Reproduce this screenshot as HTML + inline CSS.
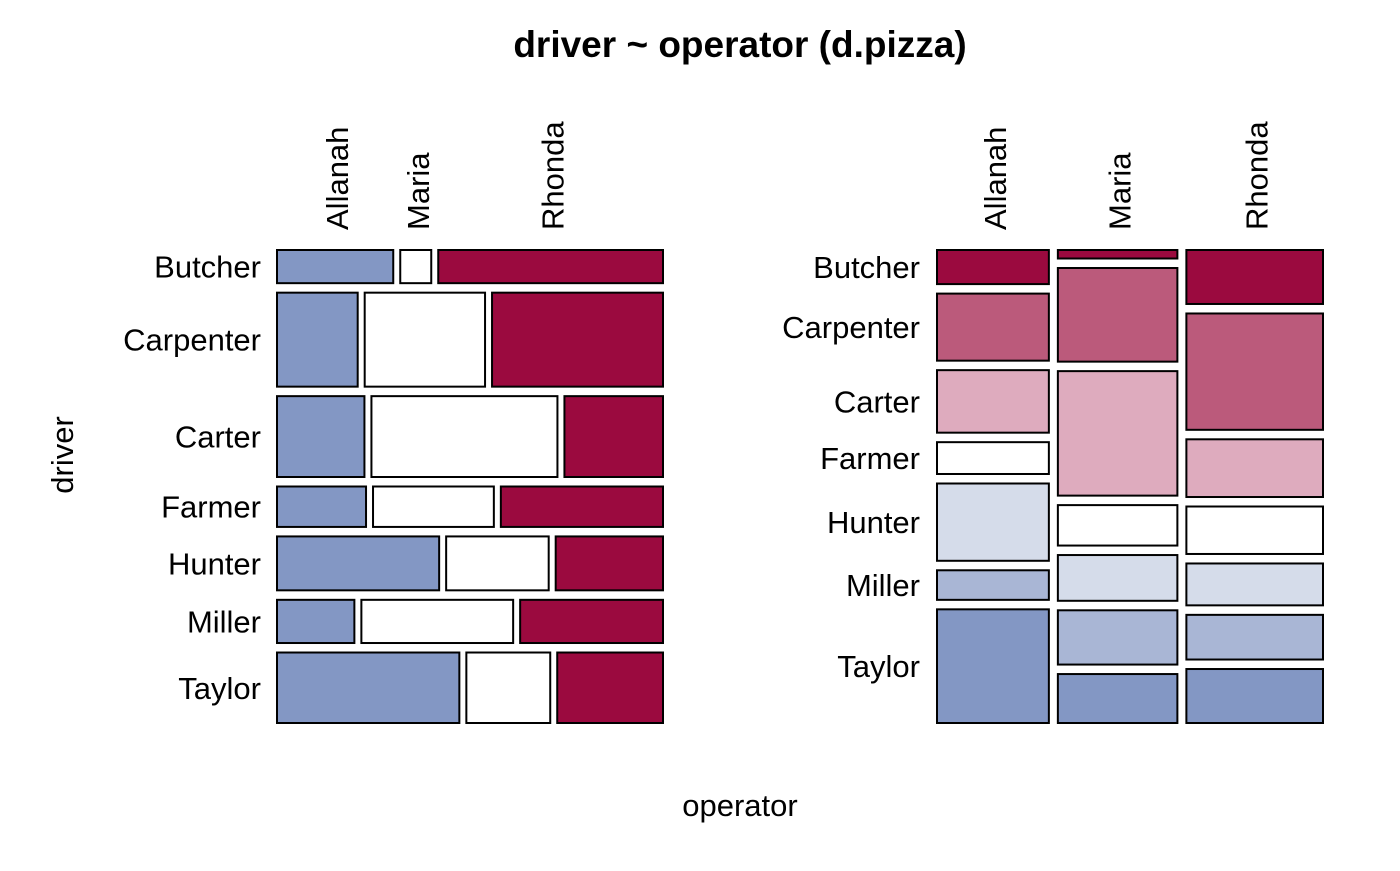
<!DOCTYPE html>
<html><head><meta charset="utf-8"><style>
body{margin:0;background:#fff}
svg text{font-family:"Liberation Sans",sans-serif;fill:#000}
</style></head><body>
<svg id="chart" width="1400" height="866" xmlns="http://www.w3.org/2000/svg">
<text x="740" y="57" text-anchor="middle" font-size="37" font-weight="bold">driver ~ operator (d.pizza)</text>
<text transform="translate(73,455) rotate(-90)" text-anchor="middle" font-size="31">driver</text>
<text x="740" y="816" text-anchor="middle" font-size="31">operator</text>
<g id="left"></g><g id="right"></g>
</svg>
<script>
const drivers = ["Butcher","Carpenter","Carter","Farmer","Hunter","Miller","Taylor"];
const operators = ["Allanah","Maria","Rhonda"];
const allanah = [30,59,55,28,68,26,100];
const maria = [8,88,117,38,43,51,46];
const rhonda = [58,125,62,51,45,48,58];
const leftColors = ["#8397C4","#FFFFFF","#9B0A3F"];
const rightColors = ["#9B0A3F","#BB5A7B","#DEABBE","#FFFFFF","#D5DCEA","#A9B6D5","#8397C4"];

const NS="http://www.w3.org/2000/svg";
const counts = drivers.map((d,i)=>[allanah[i],maria[i],rhonda[i]]);
const Y0=250,Y1=723,GX=7,GY=9.5,FS=31;
function mk(tag,parent){const e=document.createElementNS(NS,tag);parent.appendChild(e);return e;}
function rect(p,x,y,w,h,fill){const r=mk('rect',p);r.setAttribute('x',x);r.setAttribute('y',y);r.setAttribute('width',w);r.setAttribute('height',h);r.setAttribute('fill',fill);r.setAttribute('stroke','#000');r.setAttribute('stroke-width','2');return r;}
function txt(p,s,x,y,anchor,rot){const t=mk('text',p);t.textContent=s;t.setAttribute('font-size',FS);t.setAttribute('text-anchor',anchor);
 if(rot){t.setAttribute('transform',`translate(${x},${y}) rotate(-90)`);}else{t.setAttribute('x',x);t.setAttribute('y',y);}return t;}

const L=document.getElementById('left');
{const X0=277,X1=663;
 const rowTot=counts.map(r=>r[0]+r[1]+r[2]);const total=rowTot.reduce((a,b)=>a+b,0);
 const availH=(Y1-Y0)-GY*(drivers.length-1);const availW=(X1-X0)-GX*(operators.length-1);
 let y=Y0;
 drivers.forEach((d,i)=>{const h=rowTot[i]/total*availH;let x=X0;
  counts[i].forEach((c,j)=>{const w=c/rowTot[i]*availW;
   const r=rect(L,x,y,w,h,leftColors[j]);
   
   
   if(i===0){const t=txt(L,operators[j],x+w/2+13,230,'start',true);
    
    }
   x+=w+GX;});
  const t=txt(L,d,261,y+h/2+11,'end',false);
  
  
  y+=h+GY;});
}
const R=document.getElementById('right');
{const X0=937,X1=1323,GXR=9;
 const colTot=operators.map((o,j)=>counts.reduce((a,r)=>a+r[j],0));const total=colTot.reduce((a,b)=>a+b,0);
 const availW=(X1-X0)-GXR*(operators.length-1);const availH=(Y1-Y0)-GY*(drivers.length-1);
 let x=X0;
 operators.forEach((o,j)=>{const w=colTot[j]/total*availW;let y=Y0;
  drivers.forEach((d,i)=>{const h=counts[i][j]/colTot[j]*availH;
   const r=rect(R,x,y,w,h,rightColors[i]);
   
   
   if(j===0){const t=txt(R,d,920,y+h/2+11,'end',false);
    
    }
   y+=h+GY;});
  const t=txt(R,o,x+w/2+13,230,'start',true);
  
  
  x+=w+GXR;});
}
</script>
</body></html>
